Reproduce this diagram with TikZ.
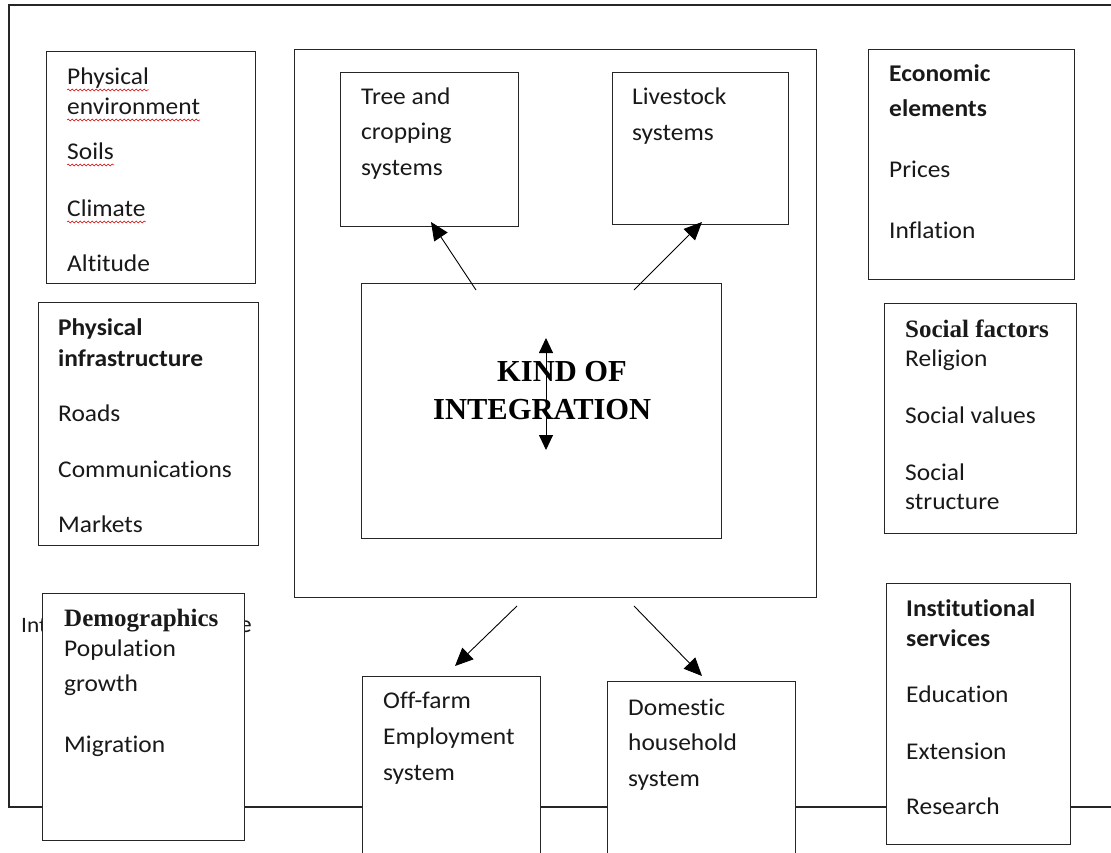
\documentclass[tikz,border=0pt]{standalone}
\usepackage{fontspec}
\setmainfont{Carlito}[FakeStretch=1.06,Ligatures=NoCommon]
\newfontfamily\serifb{Liberation Serif}
\usetikzlibrary{arrows.meta,decorations.pathmorphing,calc}
\begin{document}
\begin{tikzpicture}[x=1pt,y=-1pt,
 box/.style={draw=black!85,line width=1.3pt,fill=white,inner sep=0pt,anchor=north west},
 txt/.style={anchor=base west,inner sep=0pt,font=\fontsize{24}{28}\selectfont,text=black!90},
 hd/.style={txt,font=\fontsize{24}{28}\selectfont\bfseries},
 sh/.style={txt,font=\fontsize{25}{29}\selectfont\serifb\bfseries},
 kind/.style={anchor=base west,inner sep=0pt,font=\fontsize{30.5}{36}\selectfont\serifb\bfseries},
 arr/.style={line width=0.9pt,-{Triangle[length=18pt,width=16pt]}},
 darr/.style={line width=0.9pt,{Triangle[length=15pt,width=14pt]}-{Triangle[length=15pt,width=14pt]}},
 wavy/.style={red!80!black,line width=0.5pt,decorate,decoration={snake,amplitude=1pt,segment length=4pt}}]

\useasboundingbox (0,0) rectangle (1111,853);
\fill[white] (0,0) rectangle (1111,853);

% outer frame
\draw[line width=1.3pt,draw=black!85] (1125,5) -- (9,5) -- (9,807) -- (1125,807);

% partly hidden text
\node[txt,font=\fontsize{22}{26}\selectfont] (int) at (21,632) {Int};
\node[txt] (inte) at (239,632) {e};

% boxes
\node[box,minimum width=209pt,minimum height=232pt] (pe) at (46,51) {};
\node[box,minimum width=220pt,minimum height=243pt] (pi) at (38,302) {};
\node[box,minimum width=202pt,minimum height=247pt] (demo) at (42,593) {};
\node[box,minimum width=522pt,minimum height=548pt] (big) at (294,49) {};
\node[box,minimum width=178pt,minimum height=154pt] (tree) at (340,72) {};
\node[box,minimum width=176pt,minimum height=152pt] (live) at (612,72) {};
\node[box,minimum width=360pt,minimum height=255pt] (kindbox) at (361,283) {};
\node[box,minimum width=178pt,minimum height=200pt] (off) at (362,676) {};
\node[box,minimum width=188pt,minimum height=200pt] (dom) at (607,681) {};
\node[box,minimum width=206pt,minimum height=230pt] (econ) at (868,49) {};
\node[box,minimum width=192pt,minimum height=230pt] (soc) at (884,303) {};
\node[box,minimum width=184pt,minimum height=261pt] (inst) at (886,583) {};

% physical environment
\node[txt] (pe1) at (67,85) {Physical};
\node[txt] (pe2) at (67,115) {environment};
\node[txt] (pe3) at (67,160) {Soils};
\node[txt] (pe4) at (67,217) {Climate};
\node[txt] (pe5) at (67,271) {Altitude};
\foreach \n in {pe1,pe2,pe3,pe4}
  \draw[wavy] ($(\n.base west)+(0,5)$) -- ($(\n.base east)+(0,5)$);

% physical infrastructure
\node[hd] (pi1) at (58,335) {Physical};
\node[hd] (pi2) at (58,366) {infrastructure};
\node[txt] (pi3) at (58,421) {Roads};
\node[txt] (pi4) at (58,477) {Communications};
\node[txt] (pi5) at (58,532) {Markets};

% demographics
\node[sh] (de1) at (64,626) {Demographics};
\node[txt] (de2) at (64,656) {Population};
\node[txt] (de3) at (64,691) {growth};
\node[txt] (de4) at (64,752) {Migration};

% tree and cropping
\node[txt] (tr1) at (361,105) {Tree and};
\node[txt] (tr2) at (361,140) {cropping};
\node[txt] (tr3) at (361,176) {systems};

% livestock
\node[txt] (lv1) at (632,105) {Livestock};
\node[txt] (lv2) at (632,141) {systems};

% kind of integration
\node[kind] (k1) at (497,381) {KIND OF};
\node[kind] (k2) at (433,419) {INTEGRATION};

% off-farm
\node[txt] (of1) at (383,708) {Off-farm};
\node[txt] (of2) at (383,744) {Employment};
\node[txt] (of3) at (383,780) {system};

% domestic
\node[txt] (do1) at (628,715) {Domestic};
\node[txt] (do2) at (628,750) {household};
\node[txt] (do3) at (628,786) {system};

% economic
\node[hd] (ec1) at (889,82) {Economic};
\node[hd] (ec2) at (889,117) {elements};
\node[txt] (ec3) at (889,178) {Prices};
\node[txt] (ec4) at (889,238) {Inflation};

% social
\node[sh] (so1) at (905,337) {Social factors};
\node[txt] (so2) at (905,366) {Religion};
\node[txt] (so3) at (905,423) {Social values};
\node[txt] (so4) at (905,480) {Social};
\node[txt] (so5) at (905,509) {structure};

% institutional
\node[hd] (in1) at (906,616) {Institutional};
\node[hd] (in2) at (906,646) {services};
\node[txt] (in3) at (906,702) {Education};
\node[txt] (in4) at (906,759) {Extension};
\node[txt] (in5) at (906,814) {Research};

% arrows
\coordinate (a1s) at (476,290); \coordinate (a1e) at (431,222);
\coordinate (a2s) at (634,290); \coordinate (a2e) at (702,222);
\coordinate (a3s) at (517,606); \coordinate (a3e) at (455,666);
\coordinate (a4s) at (634,606); \coordinate (a4e) at (702,676);
\coordinate (vt) at (546,338); \coordinate (vb) at (546,450);
\draw[arr] (a1s) -- (a1e);
\draw[arr] (a2s) -- (a2e);
\draw[arr] (a3s) -- (a3e);
\draw[arr] (a4s) -- (a4e);
\draw[darr] (vb) -- (vt);
\end{tikzpicture}
\end{document}
